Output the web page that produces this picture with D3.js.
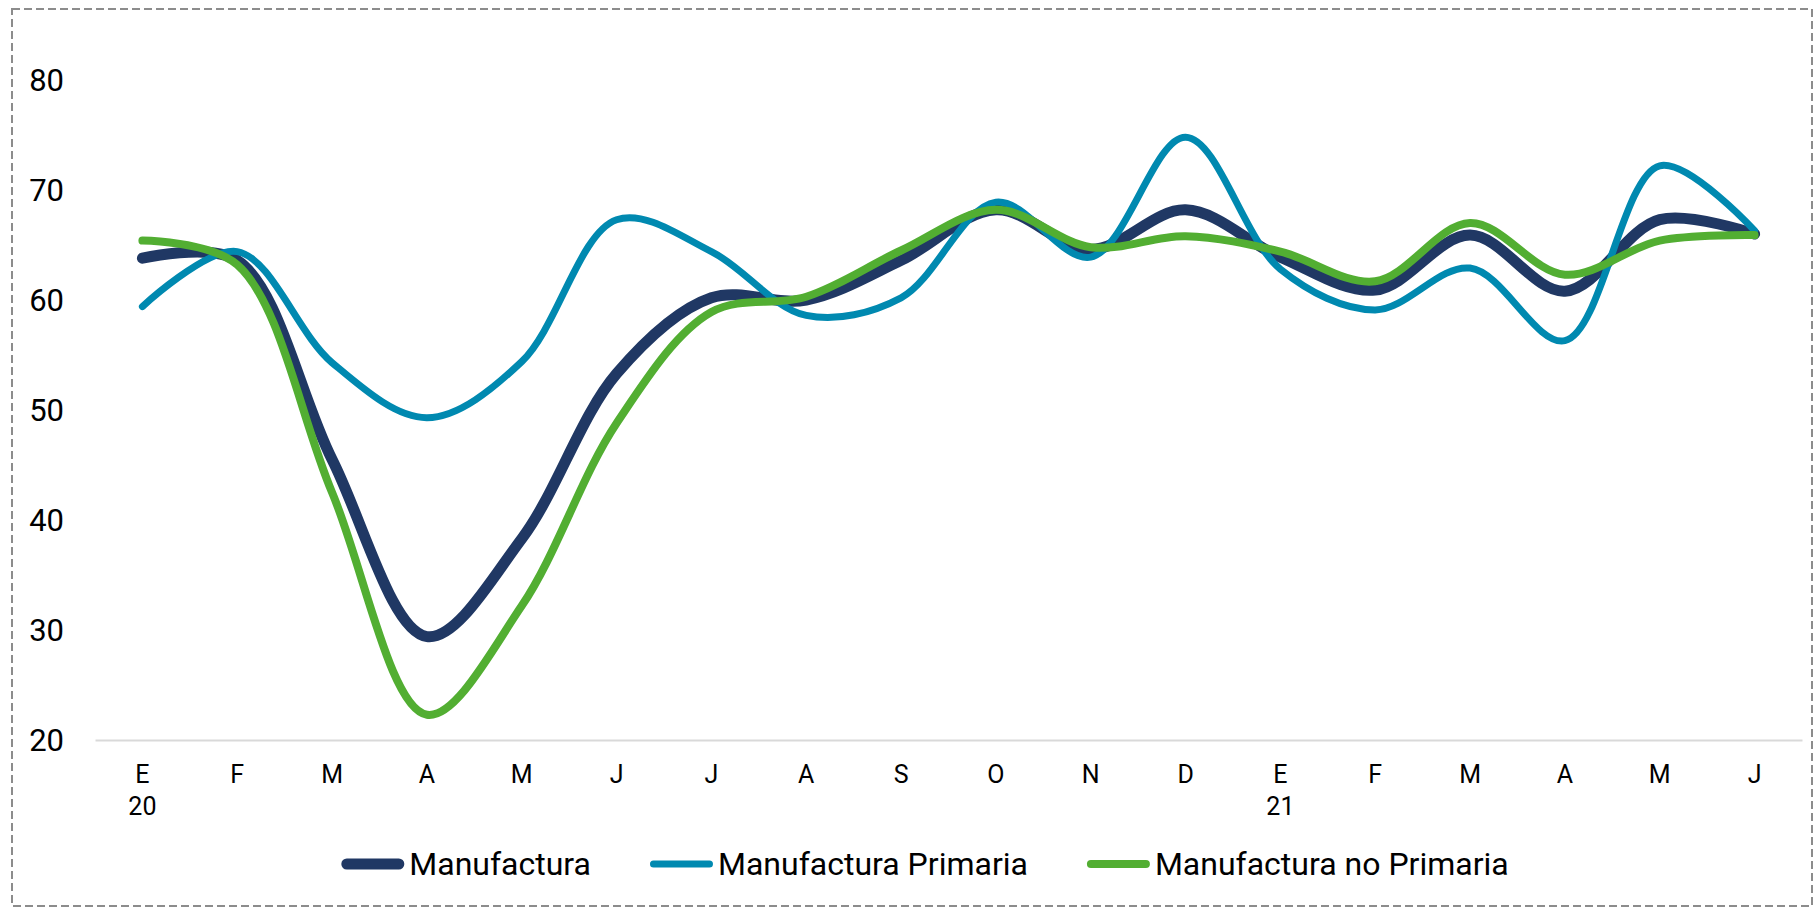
<!DOCTYPE html>
<html>
<head>
<meta charset="utf-8">
<script src="https://cdn.jsdelivr.net/npm/d3@7"></script>
<style>
	body { margin: 0; background: #fff; }
	text { font-family: Roboto, "Noto Sans", sans-serif; fill: #000; }
</style>
</head>
<body>
<svg id="chart" width="1814" height="907"></svg>
<script>
'use strict';

// months Jan 2020 .. Jun 2021
var months = ['E', 'F', 'M', 'A', 'M', 'J', 'J', 'A', 'S', 'O', 'N', 'D', 'E', 'F', 'M', 'A', 'M', 'J'];
var years = ['20', '', '', '', '', '', '', '', '', '', '', '', '21', '', '', '', '', ''];
var yTicks = [20, 30, 40, 50, 60, 70, 80];

var manufactura = [63.8, 63.6, 45.5, 29.4, 38.3, 53.3, 60.2, 60.0, 63.6, 68.2, 64.6, 68.2, 63.9, 60.9, 65.9, 60.8, 67.3, 66.0];
var primaria = [59.4, 64.4, 54.3, 49.3, 54.4, 67.3, 64.4, 58.6, 60.2, 68.9, 63.9, 74.8, 62.8, 59.1, 62.9, 56.3, 72.2, 66.3];
var noPrimaria = [65.4, 63.2, 42.5, 22.3, 32.2, 48.8, 58.9, 60.3, 64.5, 68.2, 64.8, 65.8, 64.4, 61.7, 67.0, 62.3, 65.4, 65.9];

var seriesNames = ['Manufactura', 'Manufactura Primaria', 'Manufactura no Primaria'];
var seriesColors = ['#203864', '#0089b0', '#52ae32'];
var seriesWidths = [11, 7, 8];

var series = [manufactura, primaria, noPrimaria].map(function(values, i) {
	return {name: seriesNames[i], values: values, color: seriesColors[i], width: seriesWidths[i]};
});

var svg = d3.select('#chart');

// dashed frame round the whole chart
svg.append('rect')
	.attr('x', 12).attr('y', 9)
	.attr('width', 1800).attr('height', 897)
	.attr('fill', 'none')
	.attr('stroke', '#8c8c8c')
	.attr('stroke-width', 2)
	.attr('stroke-dasharray', '8,4');

var x = d3.scaleBand()
	.domain(d3.range(months.length))
	.range([95, 1802]);

var y = d3.scaleLinear()
	.domain([20, 80])
	.range([740, 80]);

// y labels, no axis line
svg.append('g')
	.selectAll('text')
	.data(yTicks)
	.enter().append('text')
		.attr('x', 64)
		.attr('y', function(d) { return y(d); })
		.attr('dy', '0.355em')
		.attr('text-anchor', 'end')
		.style('font-size', '31px')
		.text(function(d) { return d; });

// x axis: a light line and two rows of labels
var xAxis = svg.append('g')
	.attr('transform', 'translate(0,' + y(20) + ')')
	.call(d3.axisBottom(x).tickSize(0).tickFormat(function(i) { return months[i]; }));

xAxis.select('.domain')
	.attr('stroke', '#d9d9d9')
	.attr('stroke-width', 2);

xAxis.selectAll('.tick text')
	.attr('y', 43)
	.attr('dy', 0)
	.attr('fill', '#000')
	.style('font-family', 'Roboto, "Noto Sans", sans-serif')
	.style('font-size', '25px');

xAxis.selectAll('.tick')
	.append('text')
		.attr('y', 75)
		.attr('fill', '#000')
		.attr('text-anchor', 'middle')
		.style('font-size', '25px')
		.text(function(i) { return years[i]; });

// centripetal catmull-rom is closer to the spreadsheet smoothing
var line = d3.line()
	.x(function(d, i) { return x(i) + x.bandwidth() / 2; })
	.y(function(d) { return y(d); })
	.curve(d3.curveCatmullRom.alpha(0.5));

svg.append('g')
	.selectAll('path')
	.data(series)
	.enter().append('path')
		.attr('fill', 'none')
		.attr('stroke', function(d) { return d.color; })
		.attr('stroke-width', function(d) { return d.width; })
		.attr('stroke-linecap', 'round')
		.attr('stroke-linejoin', 'round')
		.attr('d', function(d) { return line(d.values); });

// legend, laid out from measured text widths and centred
var legend = svg.append('g');
var cursor = 0;
series.forEach(function(s, i) {
	var item = legend.append('g').attr('transform', 'translate(' + cursor + ',0)');
	item.append('line')
		.attr('x1', s.width / 2).attr('x2', 63 - s.width / 2)
		.attr('y1', 0).attr('y2', 0)
		.attr('stroke', s.color)
		.attr('stroke-width', s.width)
		.attr('stroke-linecap', 'round');
	var t = item.append('text')
		.attr('x', 68)
		.attr('y', 11)
		.style('font-size', '32px')
		.text(s.name);
	cursor += 68 + t.node().getComputedTextLength() + 59;
});
cursor -= 59;
legend.attr('transform', 'translate(' + (925 - cursor / 2) + ',864)');
</script>
</body>
</html>
